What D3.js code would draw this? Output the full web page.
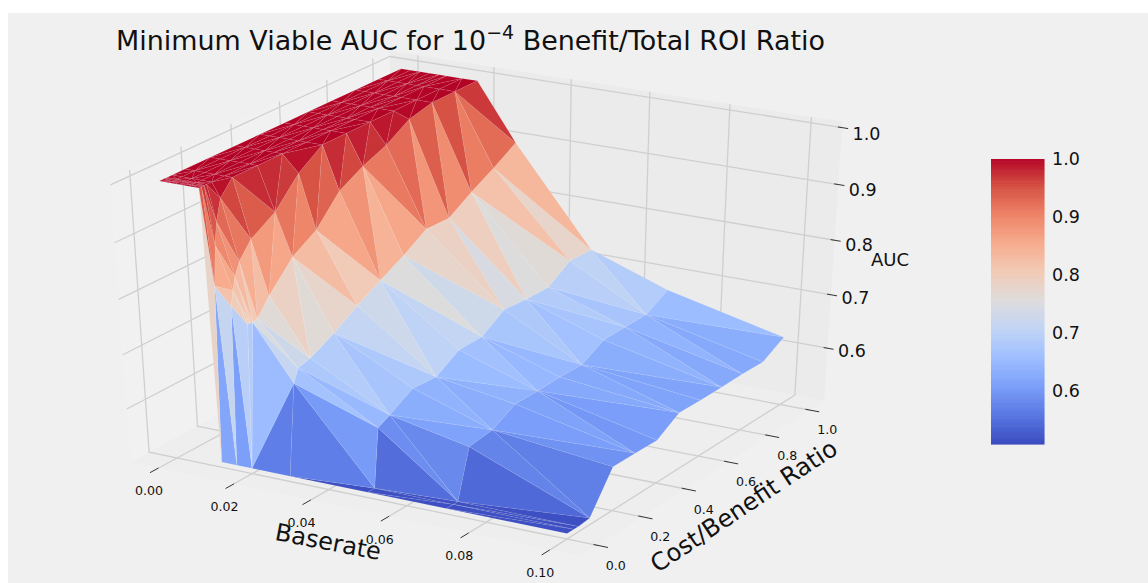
<!DOCTYPE html>
<html>
<head>
<meta charset="utf-8">
<script src="https://cdn.jsdelivr.net/npm/d3@7"></script>
<style>
  html, body { margin: 0; background: #fff; }
  svg { display: block; }
  text { font-family: "DejaVu Sans", sans-serif; fill: #111; }
</style>
</head>
<body>
<script>
// values. low baserates have extra ratios, so two grids
let baseratesLow = [0, 0.0025, 0.005, 0.0075, 0.01, 0.012, 0.016, 0.02]
let ratiosLow = [0, 0.01, 0.02, 0.03, 0.05, 0.1, 0.2, 0.3, 0.4, 0.5, 0.6, 0.7, 0.8, 0.9, 1]
let aucPlateau = [1, 1, 1, 1, 1, 1, 1, 1, 1, 1, 1, 1, 1, 1, 1]
let auc012 = [0.51, 0.83, 0.9, 0.938, 0.975, 1, 1, 1, 1, 1, 1, 1, 1, 1, 1]
let auc016 = [0.51, 0.8, 0.825, 0.847, 0.87, 0.898, 0.924, 0.971, 1, 1, 1, 1, 1, 1, 1]
let auc020Low = [0.51, 0.772, 0.772, 0.772, 0.773, 0.803, 0.85, 0.876, 0.924, 0.947, 0.964, 0.99, 1, 1, 1]
let aucLow = [aucPlateau, aucPlateau, aucPlateau, aucPlateau, aucPlateau, auc012, auc016, auc020Low]

let baseratesHigh = [0.02, 0.03, 0.05, 0.07, 0.1]
let ratiosHigh = [0, 0.03, 0.05, 0.1, 0.2, 0.3, 0.4, 0.5, 0.6, 0.7, 0.8, 0.9, 1]
let auc020 = [0.51, 0.772, 0.773, 0.803, 0.85, 0.876, 0.924, 0.947, 0.964, 0.99, 1, 1, 1]
let auc030 = [0.51, 0.675, 0.698, 0.704, 0.726, 0.753, 0.777, 0.8, 0.826, 0.825, 0.851, 0.874, 0.9]
let auc050 = [0.51, 0.51, 0.617, 0.628, 0.653, 0.65, 0.676, 0.677, 0.704, 0.701, 0.701, 0.728, 0.727]
let auc070 = [0.51, 0.51, 0.51, 0.599, 0.605, 0.628, 0.628, 0.63, 0.629, 0.652, 0.653, 0.653, 0.677]
let auc100 = [0.51, 0.51, 0.51, 0.5125, 0.581, 0.581, 0.58, 0.606, 0.605, 0.605, 0.606, 0.605, 0.628]
let aucHigh = [auc020, auc030, auc050, auc070, auc100]

// how each grid cell is split, one string per gap between baserates, one letter per gap between ratios
let splitsLow = [
    "MAMAMAMAMAMAMA",
    "AMAMAMAMAMAMAM",
    "MAMAMAMAMAMAMA",
    "AMAMAMAMAMAMAM",
    "MMMMMMMMMMMMMM",
    "AMMMMMAMAMAMAM",
    "AAAAAAAAAAAAAA"
]
let splitsHigh = [
    "MMMAMMAMAAAM",
    "MMMAMAMMAAMM",
    "MMAMAMAMAMMA",
    "MMMAMAMAMAAM"
]

let xTicks = [0, 0.02, 0.04, 0.06, 0.08, 0.1]
let yTicks = [0, 0.2, 0.4, 0.6, 0.8, 1]
let zTicks = [0.6, 0.7, 0.8, 0.9, 1]

let coolwarm = ["#3b4cc0", "#5977e3", "#7b9ff9", "#9ebeff", "#c0d4f5", "#dddcdc", "#f2cbb7", "#f7ac8e", "#ee8468", "#d65244", "#b40426"]

let width = 1148
let height = 583

let svg = d3.select("body").append("svg")
    .attr("width", width)
    .attr("height", height)

svg.append("rect")
    .attr("x", 8).attr("y", 13)
    .attr("width", width - 8).attr("height", height - 13)
    .attr("fill", "#f0f0f0")

// box limits
let xMin = -0.0075, xMax = 0.1075
let yMin = -0.075, yMax = 1.075
let zMin = 0.5, zMax = 1.01

let xScale = d3.scaleLinear().domain([0, 0.1]).range([0, 1])
let yScale = d3.scaleLinear().domain([0, 1]).range([0, 1])
let zScale = d3.scaleLinear().domain([0.5, 1]).range([0, 1])

// perspective camera, fitted to the box corners
function depth(x, y, z) {
    return 1 - 0.0432 * xScale(x) + 0.06653 * yScale(y) - 0.0526 * zScale(z)
}
function project(x, y, z) {
    let u = xScale(x), v = yScale(y), w = zScale(z)
    let d = depth(x, y, z)
    return [
        (365.5 * u + 255.7 * v - 26 * w + 177) / d,
        (57.7 * u - 101.8 * v - 286.5 * w + 458) / d
    ]
}

let line = d3.line()
let path3d = pts => line(pts.map(p => project(p[0], p[1], p[2])))

let colorScale = d3.scaleLinear()
    .domain(coolwarm.map((c, i) => 0.507 + (1 - 0.507) * i / (coolwarm.length - 1)))
    .range(coolwarm)
    .clamp(true)

//panes
let panes = svg.append("g")
panes.append("path")
    .attr("d", path3d([[xMin, yMin, zMin], [xMin, yMax, zMin], [xMin, yMax, zMax], [xMin, yMin, zMax]]) + "Z")
    .attr("fill", "#f1f1f1")
panes.append("path")
    .attr("d", path3d([[xMin, yMax, zMin], [xMax, yMax, zMin], [xMax, yMax, zMax], [xMin, yMax, zMax]]) + "Z")
    .attr("fill", "#ebebeb")
panes.append("path")
    .attr("d", path3d([[xMin, yMin, zMin], [xMax, yMin, zMin], [xMax, yMax, zMin], [xMin, yMax, zMin]]) + "Z")
    .attr("fill", "#eeeeee")

//grid
let gridLines = []
xTicks.forEach(t => {
    gridLines.push([[t, yMin, zMin], [t, yMax, zMin], [t, yMax, zMax]])
})
yTicks.forEach(t => {
    gridLines.push([[xMax, t, zMin], [xMin, t, zMin], [xMin, t, zMax]])
})
zTicks.forEach(t => {
    gridLines.push([[xMin, yMin, t], [xMin, yMax, t], [xMax, yMax, t]])
})
svg.append("g").selectAll("path")
    .data(gridLines)
    .enter()
    .append("path")
    .attr("d", path3d)
    .attr("fill", "none")
    .attr("stroke", "#cfcfcf")
    .attr("stroke-width", 1.3)

//tick marks and labels
let tickMarks = []
    .concat(xTicks.map(t => [[t, yMin, zMin], [t, yMin - 0.035, zMin]]))
    .concat(yTicks.map(t => [[xMax - 0.001, t, zMin], [xMax + 0.0025, t, zMin]]))
    .concat(zTicks.map(t => [[xMax - 0.001, yMax, t], [xMax + 0.0015, yMax, t]]))
svg.append("g").selectAll("path")
    .data(tickMarks)
    .enter()
    .append("path")
    .attr("d", path3d)
    .attr("stroke", "#333")
    .attr("stroke-width", 1)

svg.append("g").selectAll("text")
    .data(xTicks)
    .enter()
    .append("text")
    .attr("x", d => project(d, yMin, zMin)[0] - 9.5)
    .attr("y", d => project(d, yMin, zMin)[1] + 24)
    .attr("text-anchor", "middle")
    .attr("dominant-baseline", "middle")
    .attr("font-size", 12.6)
    .text(d => d.toFixed(2))

svg.append("g").selectAll("text")
    .data(yTicks)
    .enter()
    .append("text")
    .attr("x", d => project(xMax, d, zMin)[0] + 18)
    .attr("y", d => project(xMax, d, zMin)[1] + 21)
    .attr("text-anchor", "middle")
    .attr("dominant-baseline", "middle")
    .attr("font-size", 12.6)
    .text(d => d.toFixed(1))

// label offset drifts a little along the z axis
let zLabelShift = d3.scaleLinear().domain([0.6, 1]).range([3.5, 7.5])
svg.append("g").selectAll("text")
    .data(zTicks)
    .enter()
    .append("text")
    .attr("x", d => project(xMax, yMax, d)[0] + 24.5)
    .attr("y", d => project(xMax, yMax, d)[1] + zLabelShift(d))
    .attr("text-anchor", "middle")
    .attr("dominant-baseline", "middle")
    .attr("font-size", 17.5)
    .text(d => d.toFixed(1))

//surface: two triangles per grid cell
let triangles = []
function addGrid(baserates, ratios, columns, splits) {
    splits.forEach((split, i) => {
        split.split("").forEach((kind, j) => {
            let a = [baserates[i], ratios[j], columns[i][j]]
            let b = [baserates[i + 1], ratios[j], columns[i + 1][j]]
            let c = [baserates[i + 1], ratios[j + 1], columns[i + 1][j + 1]]
            let d = [baserates[i], ratios[j + 1], columns[i][j + 1]]
            if (kind == "M") {
                triangles.push([a, b, c], [a, c, d])
            } else {
                triangles.push([a, b, d], [b, c, d])
            }
        })
    })
}
addGrid(baseratesLow, ratiosLow, aucLow, splitsLow)
addGrid(baseratesHigh, ratiosHigh, aucHigh, splitsHigh)
// close the gap where the two grids meet at baserate 0.02
triangles.push([0, 1, 3].map(j => [0.02, ratiosLow[j], auc020Low[j]]))
triangles.sort((p, q) => d3.mean(q, t => depth(t[0], t[1], t[2])) - d3.mean(p, t => depth(t[0], t[1], t[2])))

svg.append("g").selectAll("path")
    .data(triangles)
    .enter()
    .append("path")
    .attr("d", d => path3d(d) + "Z")
    .attr("fill", d => colorScale(d3.mean(d, t => t[2])))
    .attr("stroke", "#fff")
    .attr("stroke-opacity", 0.14)
    .attr("stroke-width", 0.5)

//title and axis labels
let title = svg.append("text")
    .attr("x", 116)
    .attr("y", 50)
    .attr("font-size", 26.93)
title.append("tspan").text("Minimum Viable AUC for 10")
title.append("tspan").attr("font-size", 19).attr("dy", -11).text("\u22124")
title.append("tspan").attr("dy", 11).text(" Benefit/Total ROI Ratio")

svg.append("text")
    .attr("transform", "translate(328,543) rotate(10.8)")
    .attr("text-anchor", "middle")
    .attr("dominant-baseline", "middle")
    .attr("font-size", 24)
    .text("Baserate")

svg.append("text")
    .attr("transform", "translate(744.5,507) rotate(-33.6)")
    .attr("text-anchor", "middle")
    .attr("dominant-baseline", "middle")
    .attr("font-size", 24.2)
    .text("Cost/Benefit Ratio")

svg.append("text")
    .attr("x", 890)
    .attr("y", 261)
    .attr("text-anchor", "middle")
    .attr("dominant-baseline", "middle")
    .attr("font-size", 18)
    .text("AUC")

//colorbar
let barX = 991, barW = 53.5
let barScale = d3.scaleLinear().domain([0.507, 1]).range([444.3, 159.3])
let barSteps = d3.range(128).map(i => 0.507 + (1 - 0.507) * i / 128)
svg.append("g").selectAll("rect")
    .data(barSteps)
    .enter()
    .append("rect")
    .attr("x", barX)
    .attr("width", barW)
    .attr("y", d => barScale(d) - (444.3 - 159.3) / 128 - 0.3)
    .attr("height", (444.3 - 159.3) / 128 + 0.6)
    .attr("fill", d => colorScale(d))

svg.append("g").selectAll("text")
    .data(zTicks)
    .enter()
    .append("text")
    .attr("x", 1052)
    .attr("y", d => barScale(d) + 1)
    .attr("dominant-baseline", "middle")
    .attr("font-size", 17.5)
    .text(d => d.toFixed(1))
</script>
</body>
</html>
